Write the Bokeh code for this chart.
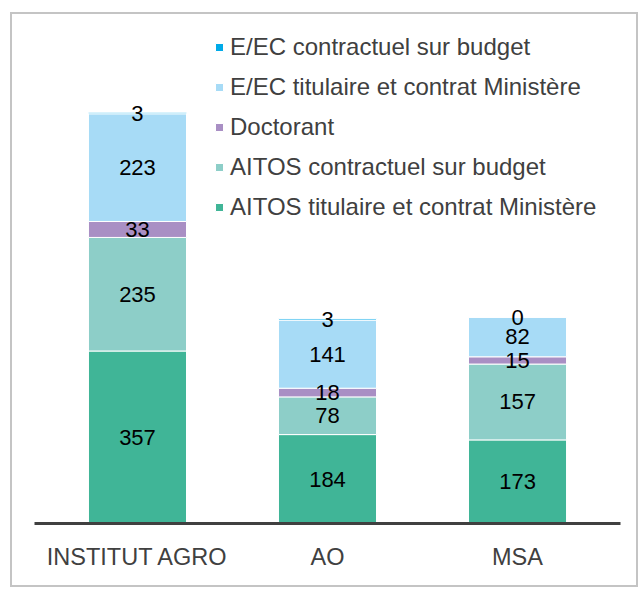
from bokeh.plotting import figure
from bokeh.models import ColumnDataSource, Range1d, FixedTicker, Legend, LegendItem
from bokeh.core.properties import value
from bokeh.embed import file_html
from bokeh.resources import INLINE
import numpy as np

categories = ["INSTITUT AGRO", "AO", "MSA"]
series = ["AITOS titulaire et contrat Ministère", "AITOS contractuel sur budget",
          "Doctorant", "E/EC titulaire et contrat Ministère", "E/EC contractuel sur budget"]
aitos_tit = [357, 184, 173]
aitos_con = [235, 78, 157]
doctorant = [33, 18, 15]
eec_tit = [223, 141, 82]
eec_con = [3, 3, 0]
colors = ["#40B597", "#8DCEC8", "#A98FC4", "#A7DBF6", "#00AAE8"]

values = [aitos_tit, aitos_con, doctorant, eec_tit, eec_con]
keys = ["s0", "s1", "s2", "s3", "s4"]
xs = list(range(len(categories)))
data = {"x": xs}
for k, v in zip(keys, values):
    data[k] = v
source = ColumnDataSource(data)

FONT = "Liberation Sans"
p = figure(width=628, height=575, output_backend="svg", toolbar_location=None,
           x_range=Range1d(-0.542, 2.542), y_range=Range1d(0, 1041),
           min_border_left=22, min_border_right=20, min_border_top=6, min_border_bottom=66)
p.margin = (12, 0, 0, 10)
p.styles = {"border": "2px solid #C4C4C4"}
p.outline_line_color = None
p.grid.visible = False
p.yaxis.visible = False

renderers = p.vbar_stack(keys, x="x", width=0.516, color=colors, source=source,
                         line_color="white", line_width=1)

xa = p.xaxis[0]
xa.ticker = FixedTicker(ticks=xs)
xa.major_label_overrides = {i: c for i, c in enumerate(categories)}
xa.axis_line_width = 3
xa.axis_line_color = "#404040"
xa.major_tick_line_color = None
xa.minor_tick_line_color = None
xa.major_label_text_font = FONT
xa.major_label_text_font_size = "23.5px"
xa.major_label_text_color = "#404040"
xa.major_label_standoff = 14

# data labels
arr = np.array(values, dtype=float)
cum = np.cumsum(arr, axis=0)
lx, ly, lt = [], [], []
for i in range(arr.shape[0]):
    for j in range(arr.shape[1]):
        lx.append(xs[j])
        ly.append(cum[i, j] - arr[i, j] / 2)
        lt.append(str(int(arr[i, j])))
p.text(x=lx, y=ly, text=lt, text_align="center", text_baseline="middle",
       text_font=value(FONT), text_font_size="22px", text_color="black")

items = [LegendItem(label=series[i], renderers=[renderers[i]]) for i in reversed(range(5))]
legend = Legend(items=items, location=(180, 301), border_line_color=None,
                background_fill_alpha=0, padding=0, margin=0, spacing=10,
                glyph_width=10, glyph_height=10, label_height=30, label_standoff=6,
                label_text_font=FONT, label_text_font_size="24px", label_text_color="#404040")
p.add_layout(legend, "center")

open("out.html", "w").write(file_html(p, INLINE))
